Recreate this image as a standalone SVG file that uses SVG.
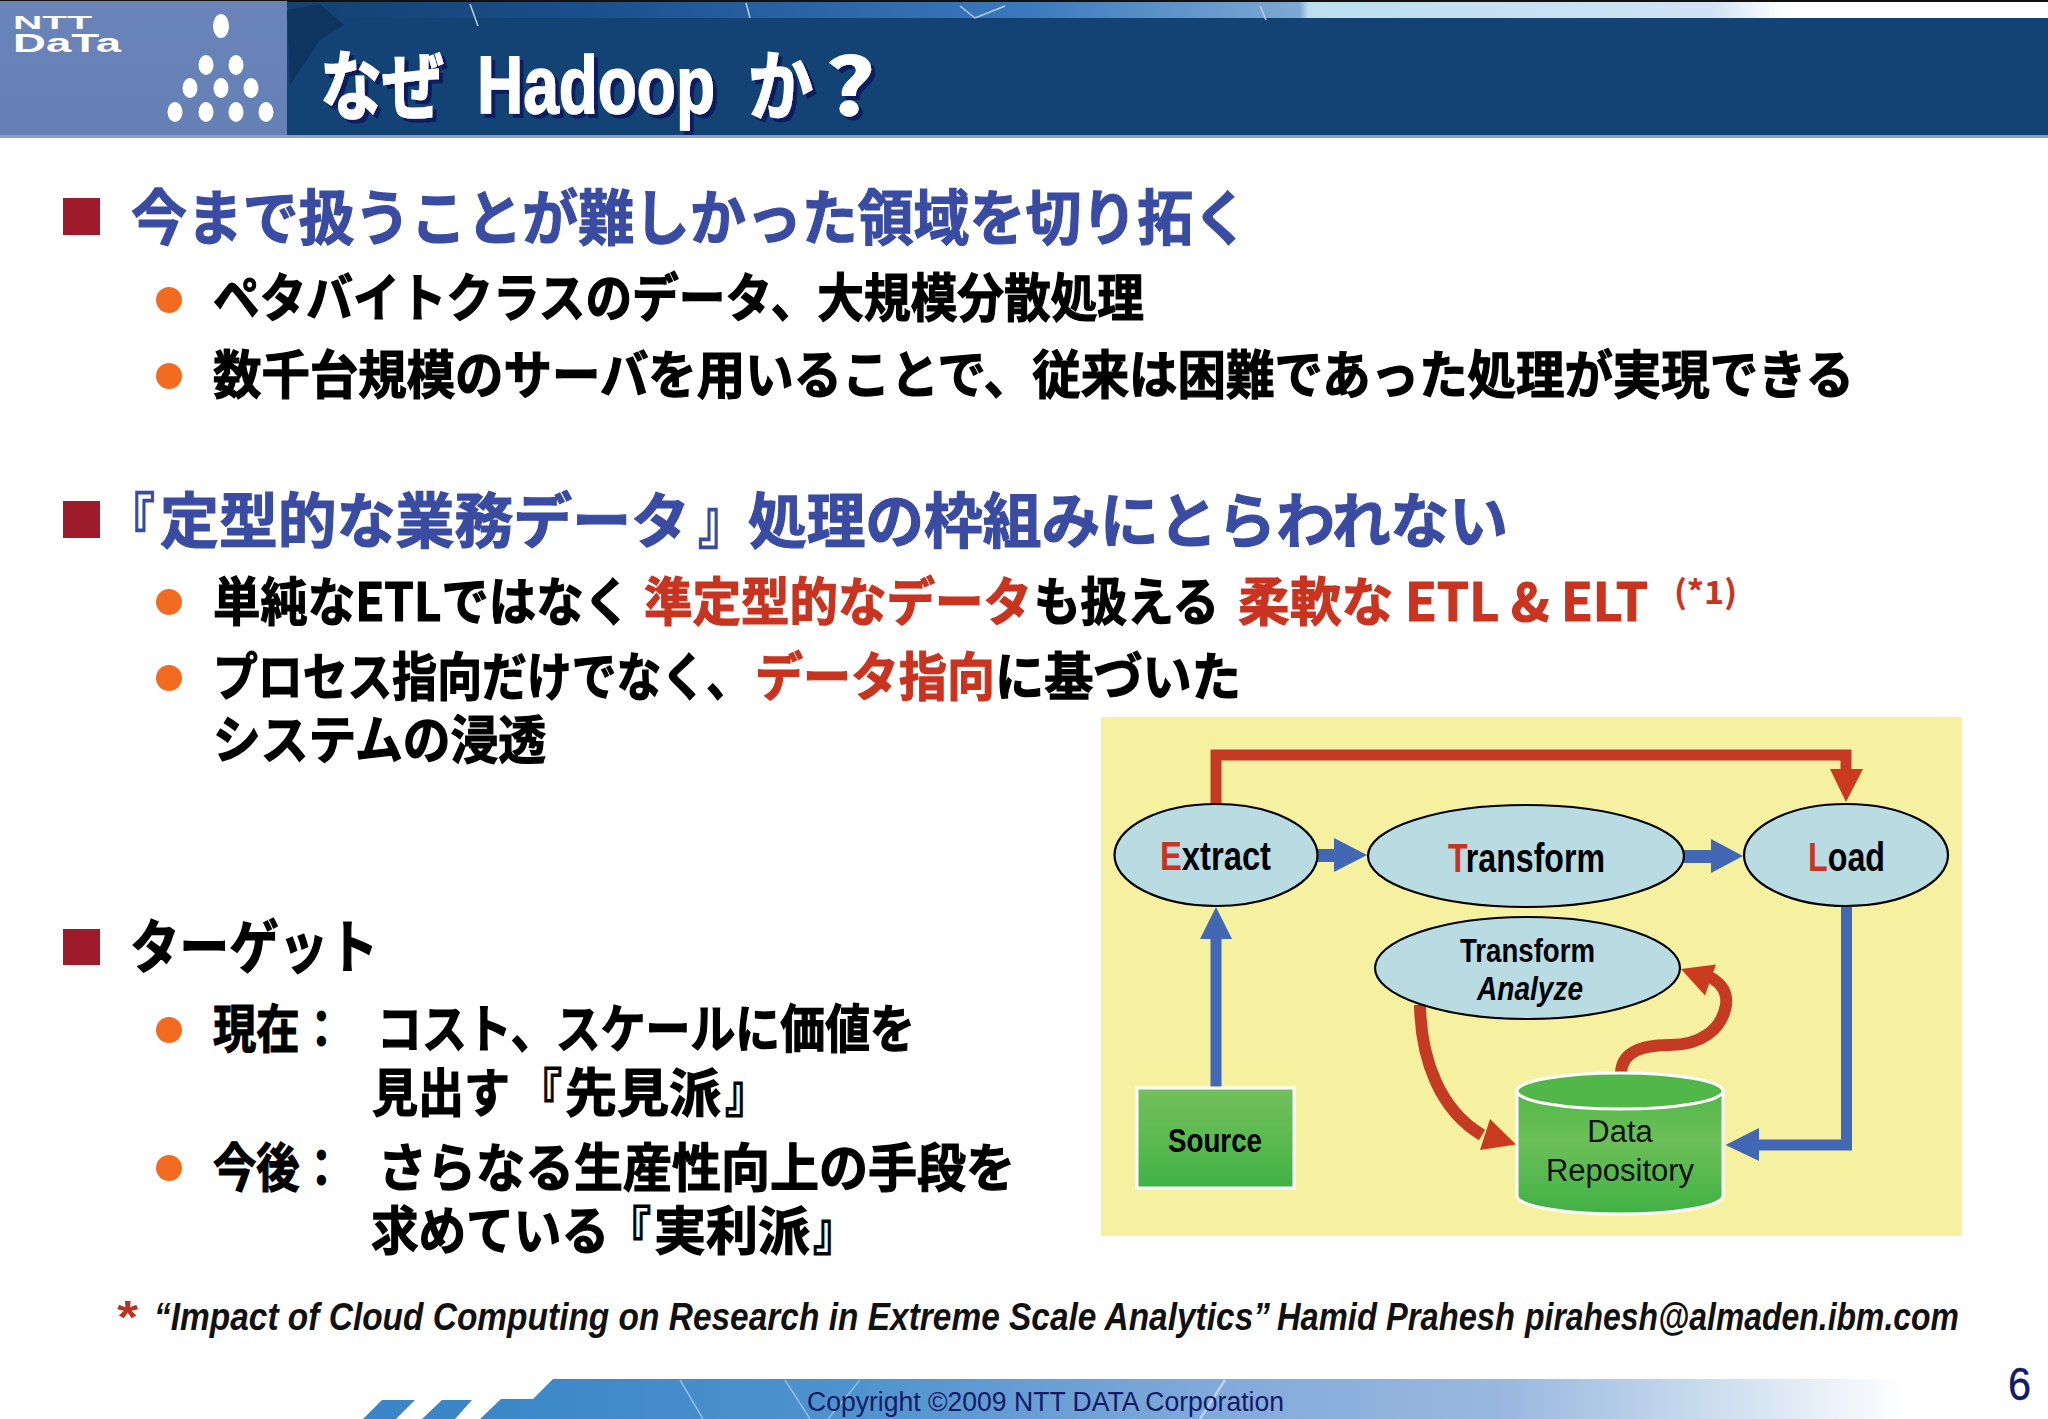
<svg xmlns="http://www.w3.org/2000/svg" width="2048" height="1419" viewBox="0 0 2048 1419">
<defs>
<linearGradient id="strip" x1="0" x2="1" y1="0" y2="0"><stop offset="0" stop-color="#13416f"/><stop offset="0.172" stop-color="#1b4f8c"/><stop offset="0.418" stop-color="#3a79bd"/><stop offset="0.575" stop-color="#7da9d4"/><stop offset="0.58" stop-color="#bcdfee"/><stop offset="0.81" stop-color="#d0e3f5"/><stop offset="0.85" stop-color="#ffffff"/><stop offset="1" stop-color="#ffffff"/></linearGradient>
<linearGradient id="logo" x1="0" x2="0" y1="0" y2="1"><stop offset="0" stop-color="#6a84b9"/><stop offset="1" stop-color="#6480b5"/></linearGradient>
<linearGradient id="foot" gradientUnits="userSpaceOnUse" x1="480" x2="1950" y1="0" y2="0"><stop offset="0" stop-color="#3a86c6"/><stop offset="0.26" stop-color="#4f93ce"/><stop offset="0.49" stop-color="#7fa9da"/><stop offset="0.7" stop-color="#9ab8e0"/><stop offset="0.82" stop-color="#c4d8ec"/><stop offset="0.97" stop-color="#ffffff"/></linearGradient>
<linearGradient id="green" x1="0" x2="0" y1="0" y2="1"><stop offset="0" stop-color="#74bf5f"/><stop offset="0.5" stop-color="#5cba50"/><stop offset="1" stop-color="#3fb245"/></linearGradient>
<linearGradient id="cyl" x1="0" x2="0" y1="0" y2="1"><stop offset="0" stop-color="#52b749"/><stop offset="0.4" stop-color="#6cc058"/><stop offset="1" stop-color="#40b145"/></linearGradient>
<filter id="shadow" x="-5%" y="-10%" width="110%" height="125%"><feDropShadow dx="4" dy="4" stdDeviation="0.4" flood-color="#0f1a60"/></filter>
</defs>
<style>
.jp{font-family:"Noto Sans CJK JP","Noto Sans",sans-serif;font-weight:700;}
.k{fill:#000;stroke:#000;stroke-width:1.2px;font-size:52px;}
.r{fill:#c8341f;stroke:#c8341f;}
.h{fill:#3a4ca2;stroke:#3a4ca2;stroke-width:1.2px;font-size:60px;}
.s{fill:#9e1b2b;}
.o{fill:#f36b21;}
.e{fill:#b9dbe2;stroke:#000;stroke-width:2.2px;}
.l{font-family:"Liberation Sans",Arial,sans-serif;font-weight:700;fill:#000;}
.rl{fill:#c8341f;}
.bl{fill:none;stroke:#4267b5;stroke-width:11px;}
.bh{fill:#4267b5;}
.rd{fill:none;stroke:#c43a22;stroke-width:12px;}
.rh{fill:#c93a1f;}
.w{fill:#fff;}
.fn{font-family:"Liberation Sans",sans-serif;font-weight:700;font-style:italic;font-size:39px;fill:#111;}
</style>
<rect width="2048" height="1419" fill="#fff"/>
<g id="header">
<rect x="0" y="0" width="2048" height="137" fill="#134274"/>
<rect x="287" y="2" width="1761" height="16" fill="url(#strip)"/>
<rect x="0" y="0" width="2048" height="2" fill="#111"/>
<polygon points="287,10 320,4 344,25 320,40 290,85" fill="#0e3560"/>
<path d="M470 4L478 26M746 3L750 18M1260 6L1266 20M960 6L975 18L1005 6" stroke="#b9cfe6" stroke-width="1.5" fill="none"/>
<rect x="0" y="135" width="2048" height="3" fill="#8c9fc4"/>
</g>
<g id="logo-box">
<rect x="0" y="1" width="287" height="134" fill="url(#logo)"/>
<text x="13" y="29" class="l" font-size="19" style="fill:#fff" textLength="79" lengthAdjust="spacingAndGlyphs">NTT</text>
<text x="13" y="52" class="l" font-size="26" style="fill:#fff" textLength="108" lengthAdjust="spacingAndGlyphs">DaTa</text>
<g class="w">
<ellipse cx="221" cy="26" rx="8" ry="12"/>
<ellipse cx="206" cy="65" rx="7.5" ry="10"/><ellipse cx="236" cy="65" rx="7.5" ry="10"/>
<ellipse cx="190" cy="88" rx="7.5" ry="10"/><ellipse cx="221" cy="88" rx="7.5" ry="10"/><ellipse cx="251" cy="88" rx="7.5" ry="10"/>
<ellipse cx="175" cy="112" rx="7.5" ry="10"/><ellipse cx="206" cy="112" rx="7.5" ry="10"/><ellipse cx="236" cy="112" rx="7.5" ry="10"/><ellipse cx="266" cy="112" rx="7.5" ry="10"/>
</g>
</g>
<g id="title" class="jp" font-size="76" fill="#fff" stroke="#fff" stroke-width="1.5" filter="url(#shadow)">
<text x="320" y="114" textLength="124" lengthAdjust="spacingAndGlyphs">なぜ</text>
<text x="477" y="113" font-size="82" textLength="238" lengthAdjust="spacingAndGlyphs" style="font-family:'Liberation Sans',sans-serif">Hadoop</text>
<text x="748" y="114" textLength="65" lengthAdjust="spacingAndGlyphs">か</text>
<text x="826" y="115" font-size="78" textLength="49" lengthAdjust="spacingAndGlyphs">?</text>
</g>
<g id="body" class="jp">
<rect class="s" x="63" y="198" width="37" height="37"/>
<rect class="s" x="63" y="501" width="37" height="37"/>
<rect class="s" x="63" y="929" width="37" height="36"/>
<ellipse class="o" cx="169" cy="300" rx="13" ry="13"/><ellipse class="o" cx="169" cy="376" rx="13" ry="13"/>
<ellipse class="o" cx="169" cy="602" rx="13" ry="13"/><ellipse class="o" cx="169" cy="678" rx="13" ry="13"/>
<ellipse class="o" cx="169" cy="1030" rx="13" ry="13"/><ellipse class="o" cx="169" cy="1168" rx="13" ry="13"/>
<text class="h" x="131" y="240" textLength="1118" lengthAdjust="spacingAndGlyphs">今まで扱うことが難しかった領域を切り拓く</text>
<text class="k" x="213" y="317" textLength="931" lengthAdjust="spacingAndGlyphs">ペタバイトクラスのデータ、大規模分散処理</text>
<text class="k" x="213" y="394" textLength="1641" lengthAdjust="spacingAndGlyphs">数千台規模のサーバを用いることで、従来は困難であった処理が実現できる</text>
<text class="h" x="107" y="543" textLength="48" lengthAdjust="spacingAndGlyphs">『</text>
<text class="h" x="160" y="543" textLength="530" lengthAdjust="spacingAndGlyphs">定型的な業務データ</text>
<text class="h" x="698" y="543" textLength="48" lengthAdjust="spacingAndGlyphs">』</text>
<text class="h" x="748" y="543" textLength="760" lengthAdjust="spacingAndGlyphs">処理の枠組みにとらわれない</text>
<text class="k" x="213" y="620.5" textLength="418" lengthAdjust="spacingAndGlyphs">単純なETLではなく</text>
<text class="k r" x="644" y="620.5" textLength="388" lengthAdjust="spacingAndGlyphs">準定型的なデータ</text>
<text class="k" x="1034" y="620.5" textLength="185" lengthAdjust="spacingAndGlyphs">も扱える</text>
<text class="k r" x="1238" y="620.5" textLength="410" lengthAdjust="spacingAndGlyphs">柔軟な ETL &amp; ELT</text>
<text class="k r" x="1674" y="604" style="font-size:32px;stroke-width:.2px" textLength="63" lengthAdjust="spacingAndGlyphs">(*1)</text>
<text class="k" x="213" y="696" textLength="538" lengthAdjust="spacingAndGlyphs">プロセス指向だけでなく、</text>
<text class="k r" x="755" y="696" textLength="240" lengthAdjust="spacingAndGlyphs">データ指向</text>
<text class="k" x="995" y="696" textLength="246" lengthAdjust="spacingAndGlyphs">に基づいた</text>
<text class="k" x="213" y="759" textLength="333" lengthAdjust="spacingAndGlyphs">システムの浸透</text>
<text class="k" x="130" y="968" style="font-size:58px" textLength="248" lengthAdjust="spacingAndGlyphs">ターゲット</text>
<text class="k" x="213" y="1048" textLength="130" lengthAdjust="spacingAndGlyphs">現在：</text>
<text class="k" x="377" y="1048" textLength="538" lengthAdjust="spacingAndGlyphs">コスト、スケールに価値を</text>
<text class="k" x="372" y="1112" textLength="138" lengthAdjust="spacingAndGlyphs">見出す</text>
<text class="k" x="519" y="1112" textLength="43" lengthAdjust="spacingAndGlyphs">『</text>
<text class="k" x="565" y="1112" textLength="156" lengthAdjust="spacingAndGlyphs">先見派</text>
<text class="k" x="725" y="1112" textLength="43" lengthAdjust="spacingAndGlyphs">』</text>
<text class="k" x="213" y="1187" textLength="130" lengthAdjust="spacingAndGlyphs">今後：</text>
<text class="k" x="378" y="1187" textLength="637" lengthAdjust="spacingAndGlyphs">さらなる生産性向上の手段を</text>
<text class="k" x="371" y="1250" textLength="238" lengthAdjust="spacingAndGlyphs">求めている</text>
<text class="k" x="608" y="1250" textLength="43" lengthAdjust="spacingAndGlyphs">『</text>
<text class="k" x="654" y="1250" textLength="156" lengthAdjust="spacingAndGlyphs">実利派</text>
<text class="k" x="813" y="1250" textLength="43" lengthAdjust="spacingAndGlyphs">』</text>
</g>
<g id="footnote">
<text x="115" y="1333" font-family="'Liberation Sans',sans-serif" font-weight="700" font-style="italic" font-size="46" fill="#b8341f" textLength="21" lengthAdjust="spacingAndGlyphs">*</text>
<text class="fn" x="154" y="1330" textLength="1116" lengthAdjust="spacingAndGlyphs">“Impact of Cloud Computing on Research in Extreme Scale Analytics”</text>
<text class="fn" x="1277" y="1330" textLength="238" lengthAdjust="spacingAndGlyphs">Hamid Prahesh</text>
<text class="fn" x="1525" y="1330" textLength="434" lengthAdjust="spacingAndGlyphs">pirahesh@almaden.ibm.com</text>
</g>
<g id="footer">
<polygon points="553,1379 1950,1379 1950,1419 480,1419 501,1399 533,1399" fill="url(#foot)"/>
<polygon points="382,1400 415,1400 396,1419 363,1419" fill="#3a86c6"/>
<polygon points="442,1400 472,1400 455,1419 422,1419" fill="#3a86c6"/>
<path d="M680 1380L703 1419M785 1380L810 1419M860 1380L828 1419" stroke="#8fbde2" stroke-width="1.5" fill="none"/>
<path d="M1225 1380L1200 1419" stroke="#b9d4ee" stroke-width="2.5" fill="none"/>
<text x="807" y="1411" font-family="'Liberation Sans',sans-serif" font-size="27" fill="#141a66" textLength="477" lengthAdjust="spacingAndGlyphs">Copyright ©2009 NTT DATA Corporation</text>
<text x="2008" y="1400" font-family="'Liberation Sans',sans-serif" font-size="47" stroke="#141a66" stroke-width=".5" fill="#141a66" textLength="23" lengthAdjust="spacingAndGlyphs">6</text>
</g>
<rect id="panel" x="1101" y="717" width="861" height="519" fill="#f6f1a0"/>
<g id="connectors">
<path class="rd" d="M1216 805V755H1846V775" style="stroke-width:11px"/>
<polygon class="rh" points="1830,769 1863,769 1846,802"/>
<rect x="1317" y="849" width="20" height="13" class="bh"/>
<polygon class="bh" points="1334,838 1367,855 1334,872"/>
<rect x="1684" y="850" width="28" height="13" class="bh"/>
<polygon class="bh" points="1711,839 1743,856 1711,873"/>
<path class="bl" d="M1216 1089V935"/>
<polygon class="bh" points="1216,907 1232,939 1200,939"/>
<path class="bl" d="M1846.5 907V1145H1755"/>
<polygon class="bh" points="1725.5,1145 1759,1128 1759,1161"/>
<path class="rd" d="M1420 1005C1421 1060 1440 1110 1482 1135"/>
<polygon class="rh" points="1516,1144.5 1490,1119 1480,1150"/>
<path class="rd" d="M1621 1073C1622 1050 1645 1045 1670 1045C1700 1045 1722 1030 1726 1005C1728 990 1718 980 1705 975"/>
<polygon class="rh" points="1681,969 1716,964.5 1705,995.5"/>
</g>
<g id="extract"><ellipse class="e" cx="1216" cy="855" rx="101.5" ry="51"/><text class="l" x="1160" y="870" font-size="41" textLength="111" lengthAdjust="spacingAndGlyphs"><tspan class="rl">E</tspan>xtract</text></g>
<g id="transform"><ellipse class="e" cx="1526" cy="856" rx="158" ry="51"/><text class="l" x="1448" y="872" font-size="41" textLength="157" lengthAdjust="spacingAndGlyphs"><tspan class="rl">T</tspan>ransform</text></g>
<g id="load"><ellipse class="e" cx="1846" cy="855" rx="102" ry="51"/><text class="l" x="1808" y="871" font-size="41" textLength="77" lengthAdjust="spacingAndGlyphs"><tspan class="rl">L</tspan>oad</text></g>
<g id="transform-analyze"><ellipse class="e" cx="1527.5" cy="968" rx="152.5" ry="51"/><text class="l" x="1460" y="962" font-size="34" textLength="135" lengthAdjust="spacingAndGlyphs">Transform</text><text class="l" x="1477" y="1000" font-size="34" font-style="italic" textLength="106" lengthAdjust="spacingAndGlyphs">Analyze</text></g>
<g id="source"><rect x="1137" y="1088" width="157" height="100" fill="url(#green)" stroke="#fff" stroke-width="3"/><text class="l" x="1168" y="1152" font-size="34" textLength="94" lengthAdjust="spacingAndGlyphs">Source</text></g>
<g id="repository">
<path d="M1517 1091V1196A103 18 0 0 0 1723 1196V1091Z" fill="url(#cyl)" stroke="#fff" stroke-width="3"/>
<ellipse cx="1620" cy="1091" rx="103" ry="18" fill="#52b749" stroke="#fff" stroke-width="3"/>
<text x="1620" y="1142" text-anchor="middle" font-family="'Liberation Sans',sans-serif" font-size="31" fill="#111">Data</text>
<text x="1620" y="1181" text-anchor="middle" font-family="'Liberation Sans',sans-serif" font-size="31" fill="#111">Repository</text>
</g>
</svg>
